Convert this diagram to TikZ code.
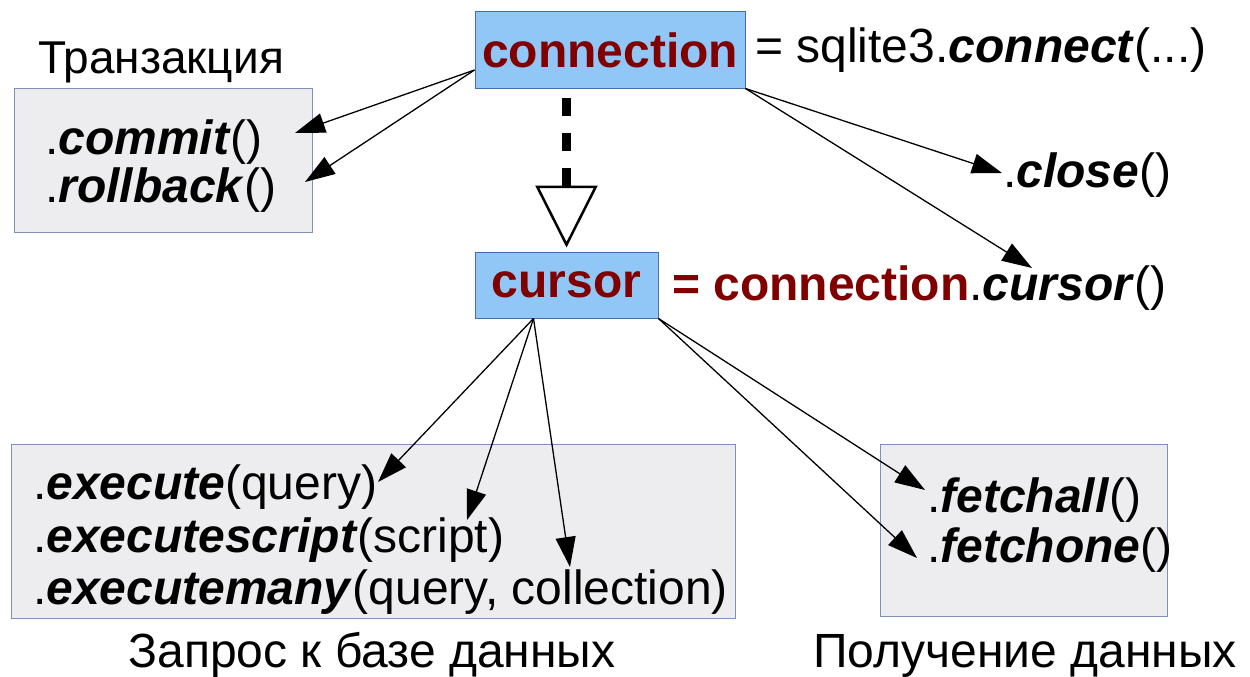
\documentclass[tikz,border=0pt]{standalone}
\usepackage{fontspec}
\setmainfont{Liberation Sans}
\usepackage{tikz}
\usetikzlibrary{calc, arrows.meta, positioning}

\definecolor{boxblue}{RGB}{145,199,247}
\definecolor{boxedge}{RGB}{70,110,170}
\definecolor{greybox}{RGB}{237,237,239}
\definecolor{greyedge}{RGB}{125,145,185}
\definecolor{darkred}{RGB}{128,0,0}
\newcommand{\meth}[1]{.\textbf{\textit{#1}}}

\begin{document}
\begin{tikzpicture}[x=1pt, y=-1pt, >={Triangle[length=30pt, width=20pt]}]
          % Стили для блоков и подписей
          \tikzstyle{objbox} = [draw=boxedge, fill=boxblue, line width=1pt, rectangle, inner sep=0pt, text=darkred, font=\fontsize{48}{48}\selectfont\bfseries]
          \tikzstyle{groupbox} = [draw=greyedge, fill=greybox, line width=1pt, rectangle, inner sep=0pt]
          \tikzstyle{code} = [anchor=base west, inner sep=0pt, font=\fontsize{48}{48}\selectfont]
          \tikzstyle{caption} = [anchor=base, inner sep=0pt, font=\fontsize{48}{48}\selectfont]
          \tikzstyle{link} = [->, line width=1.3pt]
          \tikzstyle{derive} = [line width=9pt, dash pattern=on 18pt off 17pt, -{Triangle[open, length=62pt, width=62pt, line width=2.5pt]}]

          \useasboundingbox (0,0) rectangle (1250,677);

          % Объекты
          \node [objbox, minimum width=270pt, minimum height=76pt] (conn) at (610,50) {connection};
          \node [objbox, minimum width=183pt, minimum height=66pt] (cursor) at (566.5,285) {cursor};
          \node [code] (connrhs) at (755,63) {= sqlite3\meth{connect}(...)};
          \node [code, text=darkred] (cursorrhs) at (672,300) {\textbf{= connection}\textcolor{black}{\meth{cursor}()}};

          % Группы методов
          \node [groupbox, minimum width=298pt, minimum height=144pt] (txbox) at (163,160) {};
          \node [groupbox, minimum width=724pt, minimum height=174pt] (qbox) at (373,531) {};
          \node [groupbox, minimum width=287pt, minimum height=172pt] (fbox) at (1023.5,530) {};
          \node [caption, font=\fontsize{46}{46}\selectfont] (txcap) at (161,74) {Транзакция};
          \node [caption] (qcap) at (372,667) {Запрос к базе данных};
          \node [caption] (fcap) at (1025,667) {Получение данных};

          \node [code] (commit) at (45,154) {\meth{commit}()};
          \node [code] (rollback) at (45,202) {\meth{rollback}()};
          \node [code] (close) at (1003,187) {\meth{close}()};
          \node [code] (execute) at (33,499) {\meth{execute}(query)};
          \node [code] (execscript) at (33,552) {\meth{executescript}(script)};
          \node [code] (execmany) at (33,604) {\meth{executemany}(query, collection)};
          \node [code] (fetchall) at (927,512) {\meth{fetchall}()};
          \node [code] (fetchone) at (927,562) {\meth{fetchone}()};

          % Концы стрелок
          \coordinate (commit-in) at (295,133);
          \coordinate (rollback-in) at (305,182);
          \coordinate (close-in) at (1002,173);
          \coordinate (cursor-in) at (1032,268);
          \coordinate (execute-in) at (378,482);
          \coordinate (script-in) at (467,520);
          \coordinate (many-in) at (570,567);
          \coordinate (fetchall-in) at (925,490);
          \coordinate (fetchone-in) at (917,558);

          % Связи
          \draw [derive, shorten <=9pt, shorten >=4pt] (cursor.north |- conn.south) -- (cursor.north);
          \draw [link] ([yshift=-20pt]conn.west) -- (commit-in);
          \draw [link] ([yshift=-20pt]conn.west) -- (rollback-in);
          \draw [link] (conn.south east) -- (close-in);
          \draw [link] (conn.south east) -- (cursor-in);
          \draw [link] ([xshift=-33pt]cursor.south) -- (execute-in);
          \draw [link] ([xshift=-33pt]cursor.south) -- (script-in);
          \draw [link] ([xshift=-33pt]cursor.south) -- (many-in);
          \draw [link] (cursor.south east) -- (fetchall-in);
          \draw [link] (cursor.south east) -- (fetchone-in);
        \end{tikzpicture}
\end{document}
